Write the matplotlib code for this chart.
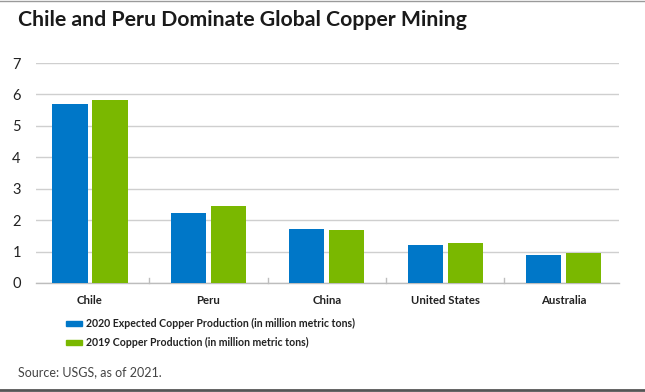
import matplotlib
matplotlib.use("Agg")
import matplotlib.pyplot as plt
from matplotlib.patches import Rectangle
from matplotlib.lines import Line2D
import numpy as np

categories = ["Chile", "Peru", "China", "United States", "Australia"]
prod_2020 = [5.70, 2.23, 1.72, 1.21, 0.89]
prod_2019 = [5.82, 2.46, 1.69, 1.27, 0.95]
series_labels = ["2020 Expected Copper Production (in million metric tons)",
                 "2019 Copper Production (in million metric tons)"]
yticks = [0, 1, 2, 3, 4, 5, 6, 7]
title = "Chile and Peru Dominate Global Copper Mining"
source = "Source: USGS, as of 2021."

BLUE = "#0077C8"
GREEN = "#7AB800"
FONT = "Lato"

W, H = 645, 392
fig = plt.figure(figsize=(W / 100, H / 100), dpi=100)
fig.patch.set_facecolor("white")

# axes: x 36..619 px, y 63..283 px
ax = fig.add_axes([36 / W, 1 - 283 / H, (619 - 36) / W, (283 - 63) / H])
x = np.arange(len(categories))
bw = 0.296
off = 0.169
ax.bar(x - off, prod_2020, bw, color=BLUE, zorder=3)
ax.bar(x + off, prod_2019, bw, color=GREEN, zorder=3)
ax.set_xlim(-0.456, 4.468)
ax.set_ylim(0, 7)
ax.set_yticks(yticks)
ax.yaxis.grid(True, color="#cfcfcf", linewidth=1.0, zorder=0)
ax.set_axisbelow(True)
for s in ["top", "right", "left"]:
    ax.spines[s].set_visible(False)
ax.spines["bottom"].set_color("#bdbdbd")
ax.spines["bottom"].set_linewidth(1.0)
ax.tick_params(axis="y", length=0, pad=14, labelsize=10.5, labelcolor="#222222")
for lab in ax.get_yticklabels():
    lab.set_fontfamily(FONT)
    lab.set_horizontalalignment("center")
ax.set_xticks(x)
ax.set_xticklabels(categories, fontfamily=FONT, fontsize=8.2, fontweight="bold", color="#222222")
ax.tick_params(axis="x", length=0, pad=9)
# separator ticks
for sx in [0.5, 1.5, 2.5, 3.5]:
    ax.plot([sx, sx], [0, 0.16], color="#bdbdbd", lw=1, zorder=2, clip_on=False)

# title
fig.text(18 / W, 1 - 20.5 / H, title, fontfamily=FONT, fontsize=15.3, fontweight="bold",
         color="#1a1a1a", va="center", ha="left")

# legend
for i, (lab, col) in enumerate(zip(series_labels, [BLUE, GREEN])):
    yc = 323.5 + i * 19
    fig.patches.append(Rectangle((66 / W, 1 - (yc + 2.5) / H), 16 / W, 5 / H,
                                 transform=fig.transFigure, color=col))
    fig.text(86 / W, 1 - yc / H, lab, fontfamily=FONT, fontsize=7.6, fontweight="bold",
             color="#222222", va="center", ha="left")

# source
fig.text(18 / W, 1 - 372 / H, source, fontfamily=FONT, fontsize=9.0, color="#444444",
         va="center", ha="left")

# borders
fig.lines.append(Line2D([0, 1], [1 - 1 / H, 1 - 1 / H], transform=fig.transFigure,
                        color="#9a9a9a", lw=1))
fig.lines.append(Line2D([0, 1], [1 - 390 / H, 1 - 390 / H], transform=fig.transFigure,
                        color="#555555", lw=2))

fig.savefig("out.png", dpi=100, facecolor="white")
